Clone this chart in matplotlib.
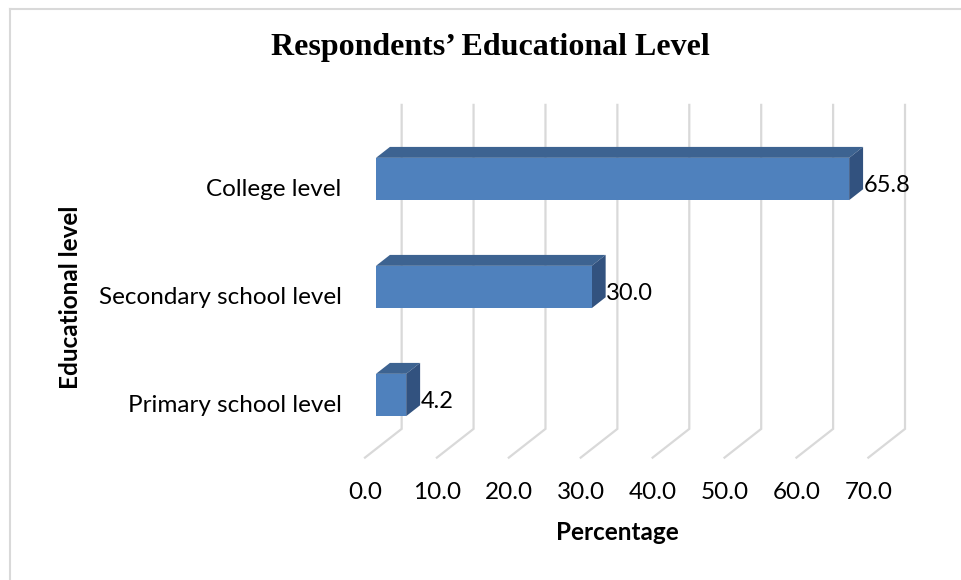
import matplotlib.pyplot as plt
from matplotlib.patches import Polygon
from matplotlib.lines import Line2D

categories = ['Primary school level', 'Secondary school level', 'College level']
values = [4.2, 30.0, 65.8]
ticks = [0, 10, 20, 30, 40, 50, 60, 70]
tick_labels = ['0.0', '10.0', '20.0', '30.0', '40.0', '50.0', '60.0', '70.0']

front_c = '#4F81BD'
top_c = '#3D6391'
side_c = '#32527F'
grid_c = '#D9D9D9'

# 3d look: a step of depth moves right and up (data units)
floor_dx, floor_dy = 5.10, 0.266   # whole floor depth
bar_d0 = 0.30                       # bar front sits this far in
bar_dd = 0.38                       # bar thickness in depth
half_h = 0.196

def proj(v, y, d):
    return (v + floor_dx * (d - bar_d0), y + floor_dy * (d - bar_d0))

W, H = 961, 580
fig = plt.figure(figsize=(W / 100, H / 100), dpi=100)
ax = fig.add_axes([361.6 / W, (H - 459.8) / H, (915.3 - 361.6) / W, (459.8 - 103.4) / H])
ax.set_xlim(-2, 75)
ax.set_ylim(-0.6, 2.7)
ax.axis('off')

# floor + back wall grid lines
for t in ticks:
    p0 = proj(t, -0.5, 0)
    p1 = proj(t, -0.5, 1)
    p2 = proj(t, 2.5, 1)
    ax.plot([p0[0], p1[0], p2[0]], [p0[1], p1[1], p2[1]], color=grid_c, lw=1.6,
            solid_joinstyle='miter', zorder=1)

font = 'Lato'
fs = 17.5
for i, (cat, v) in enumerate(zip(categories, values)):
    y0, y1 = i - half_h, i + half_h
    d1 = bar_d0 + bar_dd
    top = [proj(0, y1, bar_d0), proj(v, y1, bar_d0), proj(v, y1, d1), proj(0, y1, d1)]
    side = [proj(v, y0, bar_d0), proj(v, y0, d1), proj(v, y1, d1), proj(v, y1, bar_d0)]
    ax.add_patch(Polygon(top, closed=True, fc=top_c, ec='none', zorder=3))
    ax.add_patch(Polygon(side, closed=True, fc=side_c, ec='none', zorder=3))
    ax.barh(i, v, height=2 * half_h, color=front_c, zorder=4)
    sx = proj(v, 0, d1)[0]
    ax.text(sx + 0.1, i - 0.06, f'{v:.1f}', fontsize=17, family=font, va='center', ha='left', zorder=5)
    # category label, on the floor plane level
    ax.text(-4.8, i - 0.1, cat, fontsize=fs, family=font, va='center', ha='right', zorder=5)

for t, lab in zip(ticks, tick_labels):
    ax.text(proj(t, 0, 0)[0], -0.9, lab, fontsize=fs, family=font, ha='center', va='center')

fig.text(617 / W, 1 - 532 / H, 'Percentage', fontsize=fs, family=font, weight='bold', ha='center', va='center')
fig.text(70 / W, 1 - 297 / H, 'Educational level', fontsize=fs, family=font, weight='bold',
         ha='center', va='center', rotation=90)
fig.text(490 / W, 1 - 48 / H, 'Respondents\u2019 Educational Level', fontsize=23,
         family='Liberation Serif', weight='bold', ha='center', va='center')

# chart border (only left and top edges are visible)
fig.add_artist(Line2D([10 / W, 10 / W], [0, 1 - 9 / H], color=grid_c, lw=1.5))
fig.add_artist(Line2D([10 / W, 1], [1 - 9 / H, 1 - 9 / H], color=grid_c, lw=1.5))

fig.savefig('out.png', dpi=100)
